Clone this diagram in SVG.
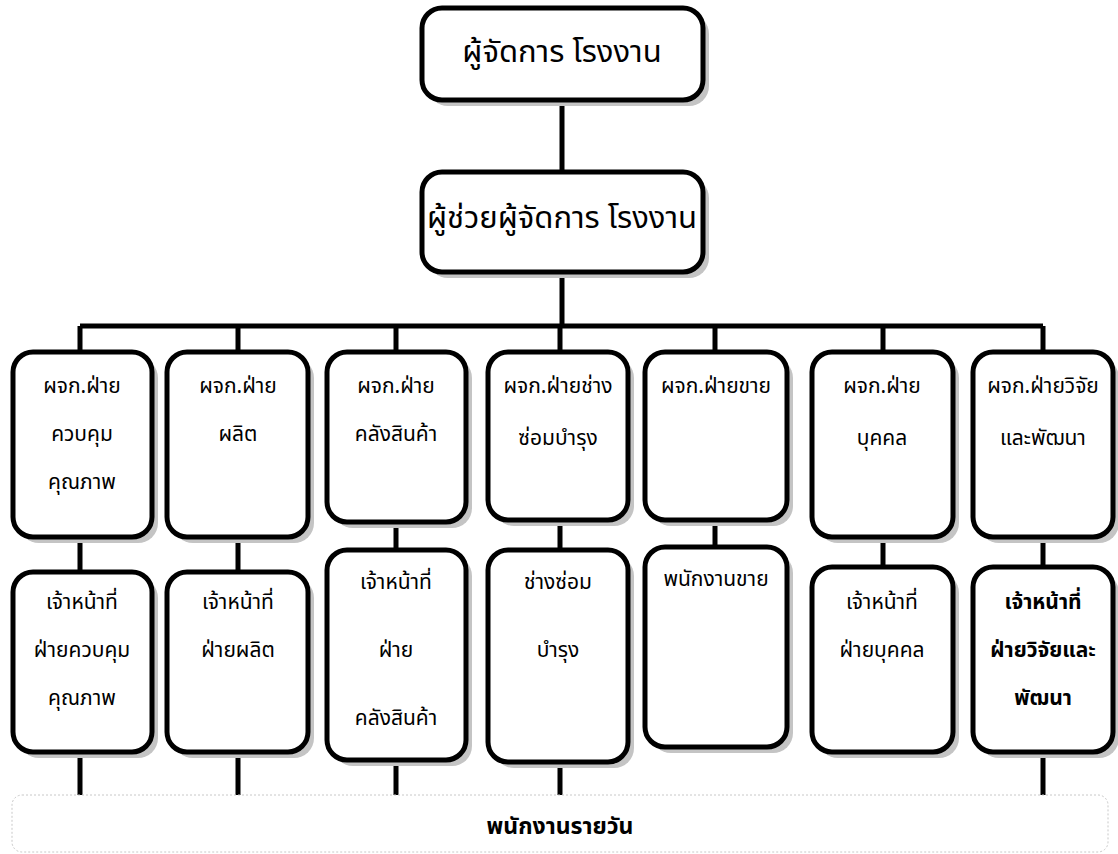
<svg xmlns="http://www.w3.org/2000/svg" width="1118" height="854" viewBox="0 0 1118 854">
<style>
.box{fill:#fff;stroke:#000;stroke-width:5}
.sh{fill:#c4c4c4}
.ln{stroke:#000;stroke-width:5;fill:none}
text{font-family:"Noto Sans Thai","Noto Sans",sans-serif;text-anchor:middle;fill:#000}
.big{font-size:31px}
.m{font-size:21px}
.b{font-size:21px;font-weight:bold}
.bb{font-size:23px;font-weight:bold}
</style>
<rect width="1118" height="854" fill="#fff"/>
<g id="connectors">
<path class="ln" d="M562 100V172M562 272V326M80 326H1043M80 326V352M238 326V352M396 326V352M560 326V352M715 326V352M883 326V352M1043 326V352"/>
<path class="ln" d="M80 537V572M238 537V572M396 522V550M560 520V550M715 520V547M883 537V567M1043 537V567"/>
<path class="ln" d="M80 752V795M238 752V795M396 760V795M560 762V795M1043 752V795"/>
</g>
<g id="n0"><rect class="sh" x="428" y="14" width="281" height="92" rx="20"/><rect class="box" x="422" y="8" width="281" height="92" rx="20"/><text class="big" x="562" y="62">ผู้จัดการ โรงงาน</text></g>
<g id="n1"><rect class="sh" x="428" y="178" width="281" height="100" rx="20"/><rect class="box" x="422" y="172" width="281" height="100" rx="20"/><text class="big" x="562" y="228">ผู้ช่วยผู้จัดการ โรงงาน</text></g>
<g id="r1c1"><rect class="sh" x="19" y="358" width="139" height="185" rx="20"/><rect class="box" x="13" y="352" width="139" height="185" rx="20"/><text class="m" x="82" y="393">ผจก.ฝ่าย</text><text class="m" x="82" y="441">ควบคุม</text><text class="m" x="82" y="489">คุณภาพ</text></g>
<g id="r1c2"><rect class="sh" x="173" y="358" width="141" height="185" rx="20"/><rect class="box" x="167" y="352" width="141" height="185" rx="20"/><text class="m" x="238" y="393">ผจก.ฝ่าย</text><text class="m" x="238" y="441">ผลิต</text></g>
<g id="r1c3"><rect class="sh" x="333" y="358" width="139" height="170" rx="20"/><rect class="box" x="327" y="352" width="139" height="170" rx="20"/><text class="m" x="396" y="393">ผจก.ฝ่าย</text><text class="m" x="396" y="441">คลังสินค้า</text></g>
<g id="r1c4"><rect class="sh" x="494" y="358" width="140" height="168" rx="20"/><rect class="box" x="488" y="352" width="140" height="168" rx="20"/><text class="m" x="558" y="393">ผจก.ฝ่ายช่าง</text><text class="m" x="558" y="445">ซ่อมบำรุง</text></g>
<g id="r1c5"><rect class="sh" x="651" y="358" width="142" height="168" rx="20"/><rect class="box" x="645" y="352" width="142" height="168" rx="20"/><text class="m" x="716" y="393">ผจก.ฝ่ายขาย</text></g>
<g id="r1c6"><rect class="sh" x="818" y="358" width="141" height="185" rx="20"/><rect class="box" x="812" y="352" width="141" height="185" rx="20"/><text class="m" x="882" y="393">ผจก.ฝ่าย</text><text class="m" x="882" y="445">บุคคล</text></g>
<g id="r1c7"><rect class="sh" x="979" y="358" width="140" height="185" rx="20"/><rect class="box" x="973" y="352" width="140" height="185" rx="20"/><text class="m" x="1043" y="393">ผจก.ฝ่ายวิจัย</text><text class="m" x="1043" y="445">และพัฒนา</text></g>
<g id="r2c1"><rect class="sh" x="19" y="578" width="139" height="180" rx="20"/><rect class="box" x="13" y="572" width="139" height="180" rx="20"/><text class="m" x="82" y="609">เจ้าหน้าที่</text><text class="m" x="82" y="657">ฝ่ายควบคุม</text><text class="m" x="82" y="705">คุณภาพ</text></g>
<g id="r2c2"><rect class="sh" x="173" y="578" width="141" height="180" rx="20"/><rect class="box" x="167" y="572" width="141" height="180" rx="20"/><text class="m" x="238" y="609">เจ้าหน้าที่</text><text class="m" x="238" y="657">ฝ่ายผลิต</text></g>
<g id="r2c3"><rect class="sh" x="333" y="556" width="139" height="210" rx="20"/><rect class="box" x="327" y="550" width="139" height="210" rx="20"/><text class="m" x="396" y="589">เจ้าหน้าที่</text><text class="m" x="396" y="657">ฝ่าย</text><text class="m" x="396" y="725">คลังสินค้า</text></g>
<g id="r2c4"><rect class="sh" x="494" y="556" width="140" height="212" rx="20"/><rect class="box" x="488" y="550" width="140" height="212" rx="20"/><text class="m" x="558" y="589">ช่างซ่อม</text><text class="m" x="558" y="657">บำรุง</text></g>
<g id="r2c5"><rect class="sh" x="651" y="553" width="142" height="200" rx="20"/><rect class="box" x="645" y="547" width="142" height="200" rx="20"/><text class="m" x="716" y="586">พนักงานขาย</text></g>
<g id="r2c6"><rect class="sh" x="818" y="573" width="141" height="185" rx="20"/><rect class="box" x="812" y="567" width="141" height="185" rx="20"/><text class="m" x="882" y="609">เจ้าหน้าที่</text><text class="m" x="882" y="657">ฝ่ายบุคคล</text></g>
<g id="r2c7"><rect class="sh" x="979" y="573" width="140" height="185" rx="20"/><rect class="box" x="973" y="567" width="140" height="185" rx="20"/><text class="b" x="1043" y="609">เจ้าหน้าที่</text><text class="b" x="1043" y="657">ฝ่ายวิจัยและ</text><text class="b" x="1043" y="705">พัฒนา</text></g>
<g id="bottom"><rect x="12" y="795" width="1096" height="57" rx="10" fill="#fff" stroke="#c8c8c8" stroke-width="1" stroke-dasharray="2 2"/><text class="bb" x="560" y="834">พนักงานรายวัน</text></g>
</svg>
